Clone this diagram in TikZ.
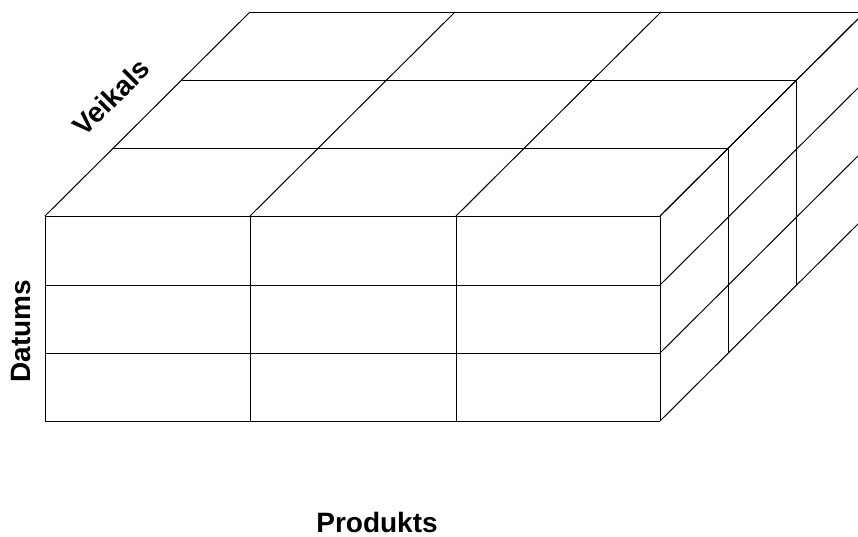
\documentclass[tikz,border=0pt]{standalone}
\usepackage{fontspec}
\setmainfont{Liberation Sans}
\begin{document}
\begin{tikzpicture}[x=1pt,y=-1pt,line width=1pt,
  lab/.style={font=\fontsize{28}{32}\selectfont\bfseries, inner sep=0pt}]
\useasboundingbox (0,0) rectangle (858,536);
\clip (0,0) rectangle (858,536);
% front face grid
\foreach \x in {45,250,456,660} \draw (\x,216) -- (\x,421);
\foreach \y in {216,285,353,421} \draw (45,\y) -- (660,\y);
% top face
\foreach \k in {1,2,3} \draw ({45+68.33*\k},{216-68*\k}) -- ({660+68.33*\k},{216-68*\k});
\foreach \x in {45,250,456,660} \draw (\x,216) -- ({\x+205},12);
% right face
\foreach \k in {1,2,3} \draw ({660+68.33*\k},{216-68*\k}) -- ({660+68.33*\k},{421-68*\k});
\foreach \y in {216,285,353,421} \draw (660,\y) -- (865,{\y-204});
% labels
\node[lab, rotate=45] (veikals) at (111,97) {Veikals};
\node[lab, rotate=90] (datums) at (21,331) {Datums};
\node[lab] (produkts) at (377,522) {Produkts};
\end{tikzpicture}
\end{document}
